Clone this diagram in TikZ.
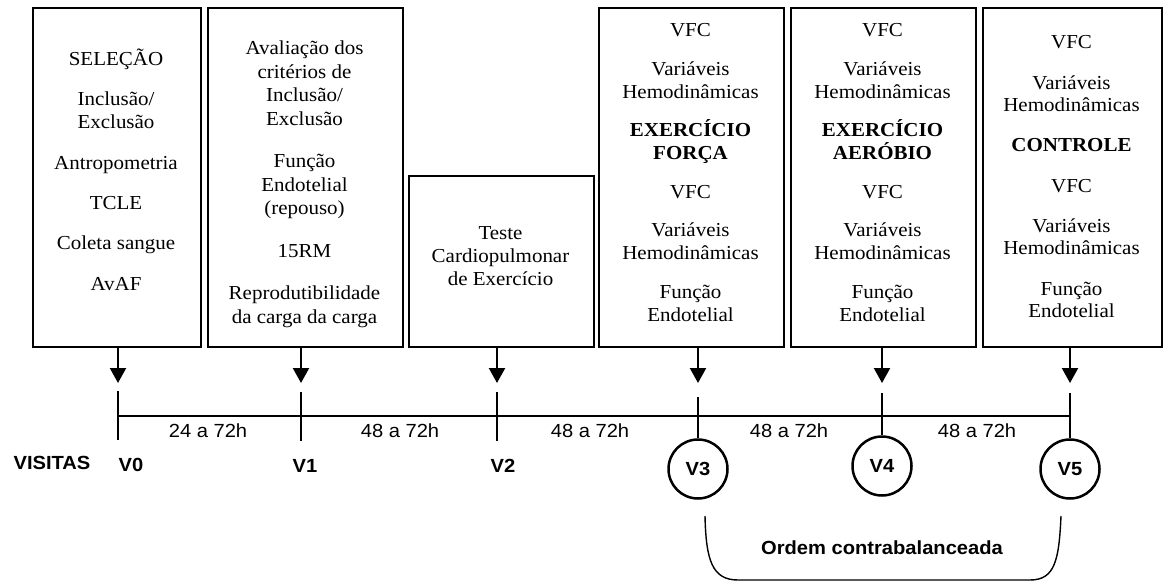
\documentclass[tikz,border=0pt]{standalone}
\usepackage{fontspec}
\setmainfont{Liberation Serif}[FakeStretch=1.06]
\newfontfamily\sansf{Liberation Sans}[FakeStretch=1.06]
\usetikzlibrary{arrows.meta}
\begin{document}
\begin{tikzpicture}[x=1pt,y=-1pt,
  box/.style={draw, line width=2pt, anchor=north west, inner sep=0pt},
  txt/.style={anchor=north, align=center, inner sep=0pt, font=\fontsize{19.8}{23}\selectfont},
  arr/.style={line width=2.2pt, -{Triangle[width=16pt,length=15pt]}},
  axis/.style={line width=2pt},
  tick/.style={line width=1.6pt},
  circ/.style={circle, draw, line width=2.5pt, minimum size=59pt, inner sep=0pt, font=\sansf\bfseries\fontsize{19}{22}\selectfont},
  lab/.style={inner sep=0pt, font=\sansf\bfseries\fontsize{19}{22}\selectfont},
  dur/.style={inner sep=0pt, font=\sansf\fontsize{19}{22}\selectfont}]
\useasboundingbox (0,0) rectangle (1164,586);

% boxes
\node[box, minimum width=168pt, minimum height=339pt] (b1) at (32,7) {};
\node[box, minimum width=195pt, minimum height=339pt] (b2) at (207,7) {};
\node[box, minimum width=185pt, minimum height=171pt] (b3) at (408,175) {};
\node[box, minimum width=185pt, minimum height=339pt] (b4) at (598,7) {};
\node[box, minimum width=185pt, minimum height=339pt] (b5) at (790,7) {};
\node[box, minimum width=179pt, minimum height=339pt] (b6) at (982,7) {};

% box texts
\node[txt] (t1) at (116,48.5) {\strut SELEÇÃO\\[17.4pt]Inclusão/\\Exclusão\\[17.4pt]Antropometria\\[17.4pt]TCLE\\[17.4pt]Coleta sangue\\[17.4pt]AvAF};
\node[txt, font=\fontsize{19.8}{23.5}\selectfont] (t2) at (304.5,38.2) {\strut Avaliação dos\\critérios de\\Inclusão/\\Exclusão\\[19pt]Função\\Endotelial\\(repouso)\\[19pt]15RM\\[19pt]Reprodutibilidade\\da carga da carga};
\node[txt] (t3) at (500.5,223.5) {\strut Teste\\Cardiopulmonar\\de Exercício};
\node[txt] (t4) at (690.5,20.5) {\strut VFC\\[15.5pt]Variáveis\\Hemodinâmicas\\[15.5pt]\textbf{EXERCÍCIO}\\\textbf{FORÇA}\\[15.5pt]VFC\\[15.5pt]Variáveis\\Hemodinâmicas\\[15.5pt]Função\\Endotelial};
\node[txt] (t5) at (882.5,20.5) {\strut VFC\\[15.5pt]Variáveis\\Hemodinâmicas\\[15.5pt]\textbf{EXERCÍCIO}\\\textbf{AERÓBIO}\\[15.5pt]VFC\\[15.5pt]Variáveis\\Hemodinâmicas\\[15.5pt]Função\\Endotelial};
\node[txt, font=\fontsize{19.8}{22}\selectfont] (t6) at (1071.5,33.2) {\strut VFC\\[18.5pt]Variáveis\\Hemodinâmicas\\[18.5pt]\textbf{CONTROLE}\\[18.5pt]VFC\\[18.5pt]Variáveis\\Hemodinâmicas\\[18.5pt]Função\\Endotelial};

% timeline points
\coordinate (p0) at (118,416);
\coordinate (p1) at (301,416);
\coordinate (p2) at (497,416);
\coordinate (p3) at (698,416);
\coordinate (p4) at (882,416);
\coordinate (p5) at (1070,416);
% arrow tips
\coordinate (a0) at (118,383);
\coordinate (a1) at (301,383);
\coordinate (a2) at (497,383);
\coordinate (a3) at (698,383);
\coordinate (a4) at (882,383);
\coordinate (a5) at (1070,383);

\draw[arr] (b1.south -| a0) -- (a0);
\draw[arr] (b2.south -| a1) -- (a1);
\draw[arr] (b3.south -| a2) -- (a2);
\draw[arr] (b4.south -| a3) -- (a3);
\draw[arr] (b5.south -| a4) -- (a4);
\draw[arr] (b6.south -| a5) -- (a5);

% axis
\draw[axis] (p0) -- (p5);

% tick ends
\coordinate (u0) at (118,391); \coordinate (d0) at (118,440);
\coordinate (u1) at (301,392); \coordinate (d1) at (301,441);
\coordinate (u2) at (497,392); \coordinate (d2) at (497,441);
\coordinate (u3) at (698,397);
\coordinate (u4) at (882,393);
\coordinate (u5) at (1070,393);

\draw[tick] (u0) -- (d0);
\draw[tick] (u1) -- (d1);
\draw[tick] (u2) -- (d2);

% circles
\node[circ] (c3) at (698,469) {V3};
\node[circ] (c4) at (882,466) {V4};
\node[circ] (c5) at (1070,469) {V5};
\draw[tick] (u3) -- (c3.north);
\draw[tick] (u4) -- (c4.north);
\draw[tick] (u5) -- (c5.north);

% labels
\node[lab] (vis) at (52,463) {VISITAS};
\node[lab] (l0) at (131,465) {V0};
\node[lab] (l1) at (305,466) {V1};
\node[lab] (l2) at (503,466) {V2};

\node[dur] (d01) at (208,431) {24 a 72h};
\node[dur] (d12) at (400,431) {48 a 72h};
\node[dur] (d23) at (590,431) {48 a 72h};
\node[dur] (d34) at (789,431) {48 a 72h};
\node[dur] (d45) at (977,431) {48 a 72h};

% bracket
\coordinate (k1) at (705,516);
\coordinate (k2) at (738,580);
\coordinate (k3) at (1030,580);
\coordinate (k4) at (1061,516);
\draw[line width=1.4pt] (k1) .. controls (706,560) and (712,580) .. (k2) -- (k3) .. controls (1055,580) and (1059,560) .. (k4);
\node[lab] (ord) at (882,548) {Ordem contrabalanceada};
\end{tikzpicture}
\end{document}
